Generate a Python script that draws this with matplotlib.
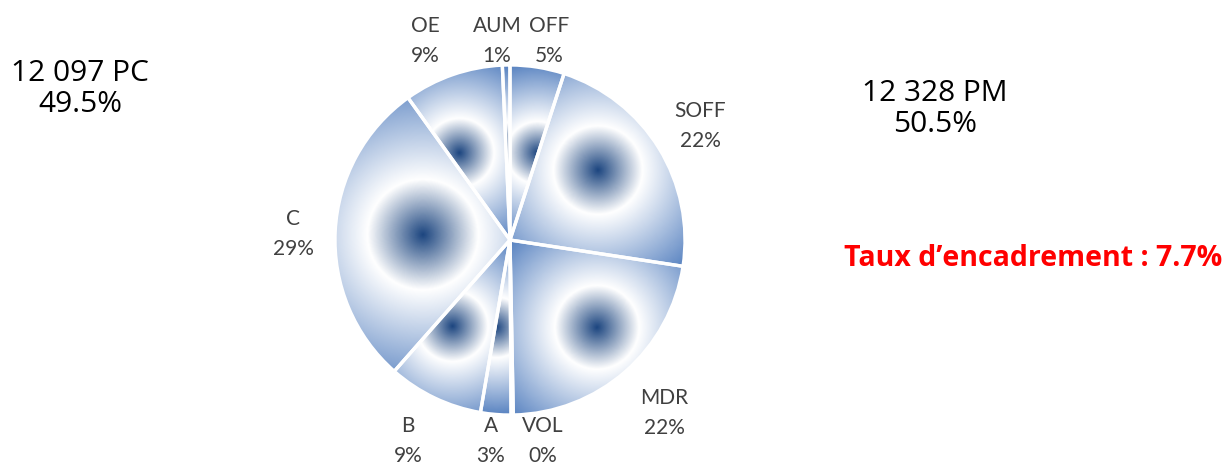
import numpy as np
import matplotlib
matplotlib.use("Agg")
import matplotlib.pyplot as plt
from matplotlib.colors import LinearSegmentedColormap

# parts du camembert (en %), dans l'ordre horaire depuis midi
categories = ["OFF", "SOFF", "MDR", "VOL", "A", "B", "C", "OE", "AUM"]
shares = [5.0, 22.4, 22.3, 0.2, 2.8, 8.8, 28.6, 9.2, 0.7]

pc_count, pc_share = "12 097", 49.5
pm_count, pm_share = "12 328", 50.5
taux = 7.7

W, H = 1224, 466
# position des étiquettes (pixels, centre du bloc)
label_pos = {"OFF": (549, 41), "SOFF": (700, 126), "MDR": (664, 413),
             "VOL": (543, 441), "A": (491, 441), "B": (408, 441),
             "C": (293, 234), "OE": (425, 41), "AUM": (497, 41)}

plt.rcParams['font.family'] = ['Lato', 'DejaVu Sans']

fig = plt.figure(figsize=(W / 100, H / 100), dpi=100)
ax = fig.add_axes([0, 0, 1, 1])
R = 175.0
cx_px, cy_px = 510, 240
ax.axis("off")

wedges, _ = ax.pie(shares, startangle=90, counterclock=False, radius=1,
                   wedgeprops=dict(facecolor="none", edgecolor="white", linewidth=2.4))
ax.set_xlim(-cx_px / R, (W - cx_px) / R)
ax.set_ylim(-(H - cy_px) / R, cy_px / R)
ax.set_aspect("auto")

# dégradé radial : bleu foncé au centre, blanc, puis bleu vers les bords
cmap = LinearSegmentedColormap.from_list(
    "grad", [(0, "#1d4680"), (0.34, "#ffffff"), (1.0, "#5681c0")])

n = 500
xs = np.linspace(-1, 1, n)
X, Y = np.meshgrid(xs, xs)
for w in wedges:
    w.set_zorder(3)
    a = np.radians(np.linspace(w.theta1, w.theta2, 300))
    px = np.append(np.cos(a), 0)
    py = np.append(np.sin(a), 0)
    gx = (px.min() + px.max()) / 2
    gy = (py.min() + py.max()) / 2
    hd = np.hypot(px.max() - px.min(), py.max() - py.min()) / 2
    d = np.clip(np.hypot(X - gx, Y - gy) / hd, 0, 1)
    im = ax.imshow(d, cmap=cmap, vmin=0, vmax=1, extent=(-1, 1, -1, 1),
                   origin="lower", interpolation="bilinear", zorder=2)
    im.set_clip_path(w)

for cat, s in zip(categories, shares):
    x, y = label_pos[cat]
    fig.text(x / W, 1 - y / H, f"{cat}\n{s:.0f}%", ha="center", va="center",
             fontsize=15, color="#404040", linespacing=1.62)

big = dict(ha="center", va="center", fontsize=21.5, color="black",
           linespacing=1.1, family=['Open Sans', 'DejaVu Sans'])
fig.text(80 / W, 1 - 89 / H, f"{pc_count} PC\n{pc_share}%", **big)
fig.text(935 / W, 1 - 109 / H, f"{pm_count} PM\n{pm_share}%", **big)
fig.text(1222 / W, 1 - 258 / H, f"Taux d\u2019encadrement : {taux}%", ha="right", va="center",
         fontsize=20.5, color="#ff0000", fontweight="bold",
         family=['Open Sans', 'DejaVu Sans'])

fig.savefig("out.png", dpi=100)
